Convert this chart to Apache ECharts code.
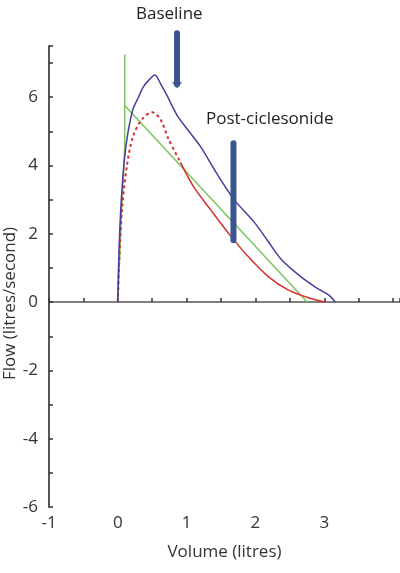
<!DOCTYPE html>
<html>
<head>
<meta charset="utf-8">
<script src="https://cdn.jsdelivr.net/npm/echarts@6/dist/echarts.min.js"></script>
<style>
  html, body { margin: 0; padding: 0; background: #fff; }
  #main { width: 400px; height: 573px; }
</style>
</head>
<body>
<div id="main"></div>
<script>
// flow-volume loops (volume in litres, flow in litres/second)
var baselineVol  = [0, 0.01, 0.03, 0.06, 0.1, 0.15, 0.22, 0.3, 0.37, 0.45, 0.54, 0.62, 0.72, 0.8, 0.87, 1.01, 1.2, 1.43, 1.69, 1.99, 2.19, 2.38, 2.63, 2.87, 3.07, 3.16];
var baselineFlow = [0, 1.0, 2.2, 3.3, 4.26, 5.0, 5.65, 6.0, 6.3, 6.5, 6.65, 6.4, 6.03, 5.7, 5.44, 5.06, 4.56, 3.79, 3.0, 2.32, 1.76, 1.24, 0.79, 0.44, 0.2, 0];

var postVol  = [0, 0.02, 0.06, 0.13, 0.22, 0.35, 0.5, 0.62, 0.74, 0.91, 1.1, 1.35, 1.65, 1.9, 2.19, 2.48, 2.78, 3.01];
var postFlow = [0, 1.2, 2.7, 3.97, 4.85, 5.35, 5.56, 5.35, 4.76, 4.09, 3.38, 2.7, 1.91, 1.32, 0.74, 0.35, 0.12, 0];
var postDashEnd = 9; // first part of the red trace is dotted

var predVol  = [0, 0.05, 0.1, 0.1, 0.1, 2.75];
var predFlow = [0, 2.5, 4.5, 7.25, 5.76, 0];

// arrows: [volume, top flow, bottom flow]
var arrowBaseline = [0.86, 7.87, 6.26];
var arrowPost     = [1.68, 4.65, 1.81];

var yTicks = [-6, -4, -2, 0, 2, 4, 6];
var xTicks = [-1, 0, 1, 2, 3];

function pairs(xs, ys) {
  var out = [];
  for (var i = 0; i < xs.length; i++) out.push([xs[i], ys[i]]);
  return out;
}

var font = '"Open Sans", Lato, sans-serif';
var myChart = echarts.init(document.getElementById('main'));

var postAll = pairs(postVol, postFlow);

var option = {
  animation: false,
  backgroundColor: '#fff',
  grid: { left: 49, right: 0, top: 46, bottom: 66, outerBoundsMode: 'none', containLabel: false },
  xAxis: [{
    type: 'value', min: -1, max: 4.1, interval: 0.5,
    axisLine: { onZero: true, lineStyle: { color: '#555', width: 1.5 } },
    axisTick: { show: true, inside: true, length: 4, lineStyle: { color: '#333', width: 1.5 } },
    axisLabel: { show: false },
    splitLine: { show: false }
  }, {
    type: 'value', min: -1, max: 4.1, interval: 1, position: 'bottom',
    axisLine: { show: false, onZero: false },
    axisTick: { show: false },
    splitLine: { show: false },
    axisLabel: {
      margin: 8, fontSize: 17, color: '#333', fontFamily: font,
      formatter: function (v) { return xTicks.indexOf(v) >= 0 ? String(v) : ''; }
    },
    name: 'Volume (litres)', nameLocation: 'middle', nameGap: 37,
    nameMoveOverlap: false,
    nameTextStyle: { fontSize: 17, color: '#333', fontFamily: font }
  }],
  yAxis: {
    type: 'value', min: -6, max: 7.5, interval: 2,
    axisLine: { show: true, onZero: false, lineStyle: { color: '#555', width: 2 } },
    axisTick: { show: true, inside: true, length: 4, lineStyle: { color: '#333', width: 1.5 } },
    minorTick: { show: true, splitNumber: 2, length: 4, lineStyle: { color: '#333', width: 1.5 } },
    splitLine: { show: false },
    axisLabel: {
      margin: 11, fontSize: 17, color: '#333', fontFamily: font,
      formatter: function (v) { return yTicks.indexOf(v) >= 0 ? String(v) : ''; }
    },
    name: 'Flow (litres/second)', nameLocation: 'middle', nameRotate: 90, nameGap: 30,
    nameMoveOverlap: false,
    nameTextStyle: { fontSize: 17, color: '#333', fontFamily: font, padding: [0, 54, 0, 0] }
  },
  series: [{
    name: 'Predicted', type: 'line', showSymbol: false, symbol: 'none',
    data: pairs(predVol, predFlow),
    lineStyle: { color: '#7cc55e', width: 1.5 }, z: 2
  }, {
    name: 'Post-ciclesonide', type: 'line', symbol: 'none', smooth: 0.3,
    data: postAll.slice(0, postDashEnd + 1),
    lineStyle: { color: '#d8302f', width: 2, type: [3, 3] }, z: 3
  }, {
    name: 'Post-ciclesonide', type: 'line', symbol: 'none', smooth: 0.3,
    data: postAll.slice(postDashEnd),
    lineStyle: { color: '#d8302f', width: 1.5 }, z: 3
  }, {
    name: 'Baseline', type: 'line', symbol: 'none', smooth: 0.3,
    data: pairs(baselineVol, baselineFlow),
    lineStyle: { color: '#4a3c9c', width: 1.5 }, z: 4
  }]
};
myChart.setOption(option);

// arrows placed through the axes, labels above them
function arrowGraphic(a, head) {
  var p1 = myChart.convertToPixel({ gridIndex: 0 }, [a[0], a[1]]);
  var p2 = myChart.convertToPixel({ gridIndex: 0 }, [a[0], a[2]]);
  var els = [{
    type: 'line', z: 10,
    shape: { x1: p1[0], y1: p1[1], x2: p2[0], y2: p2[1] - (head ? 4 : 0) },
    style: { stroke: '#3b5590', lineWidth: 6, lineCap: 'round' }
  }];
  if (head) {
    els.push({
      type: 'polygon', z: 10,
      shape: { points: [[p2[0] - 5, p2[1] - 6], [p2[0] + 5, p2[1] - 6], [p2[0], p2[1]]] },
      style: { fill: '#3b5590' }
    });
  }
  return els;
}

myChart.setOption({
  graphic: arrowGraphic(arrowBaseline, true).concat(arrowGraphic(arrowPost, false)).concat([{
    type: 'text', left: 136, top: 6,
    style: { text: 'Baseline', fontSize: 17, fill: '#222', fontFamily: font }
  }, {
    type: 'text', left: 206, top: 111,
    style: { text: 'Post-ciclesonide', fontSize: 17, fill: '#222', fontFamily: font }
  }])
});
</script>
</body>
</html>
